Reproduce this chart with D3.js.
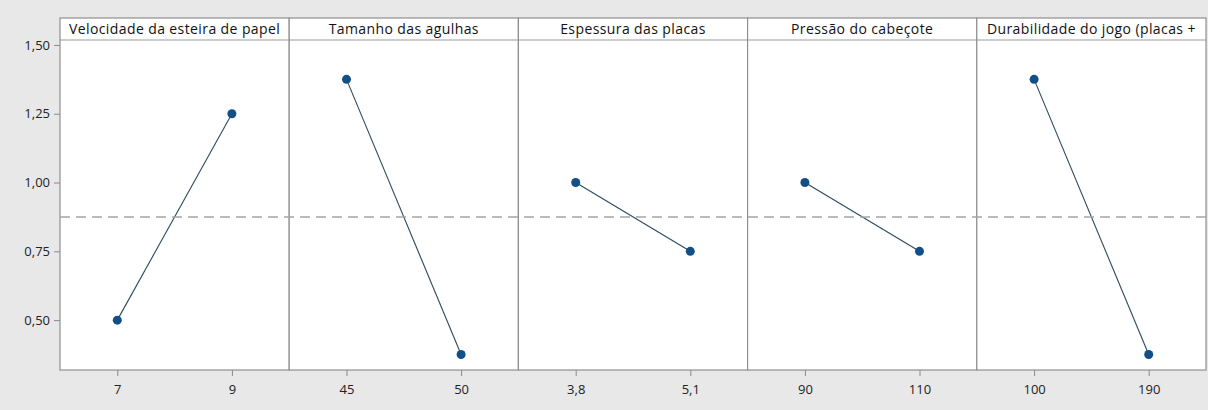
<!DOCTYPE html>
<html>
<head>
<meta charset="utf-8">
<script src="https://cdn.jsdelivr.net/npm/d3@7"></script>
<style>
body{margin:0;background:#e8e8e8;}
text{font-family:"Open Sans","DejaVu Sans",sans-serif;}
</style>
</head>
<body>
<script>
// fatores e níveis
var factors = ["Velocidade da esteira de papel", "Tamanho das agulhas", "Espessura das placas", "Pressão do cabeçote", "Durabilidade do jogo (placas +"];
var levels = [["7", "9"], ["45", "50"], ["3,8", "5,1"], ["90", "110"], ["100", "190"]];
var means = [[0.50, 1.25], [1.375, 0.375], [1.00, 0.75], [1.00, 0.75], [1.375, 0.375]];
var yTicks = [0.50, 0.75, 1.00, 1.25, 1.50];
var grandMean = 0.875;

var width = 1208, height = 410;
var left = 60, topY = 18, headH = 22, bottom = 370, panelW = 229.2;

var svg = d3.select("body").append("svg")
    .attr("width", width)
    .attr("height", height);

var y = d3.scaleLinear()
    .domain([0.3188, 1.518])
    .range([bottom, topY + headH]);

var fmt = function(d){ return d3.format(".2f")(d).replace(".", ","); };

// eixo y
var yAxis = svg.append("g")
    .attr("transform", "translate(" + left + ",0)")
    .call(d3.axisLeft(y).tickValues(yTicks).tickSize(6).tickPadding(4).tickFormat(fmt));
yAxis.select(".domain").remove();
yAxis.selectAll("line").attr("stroke", "#8a8a8a");
yAxis.selectAll("text").attr("font-size", 13).attr("fill", "#222");

var panel = svg.selectAll("g.panel")
    .data(factors)
    .enter().append("g")
    .attr("class", "panel")
    .attr("transform", function(d, i){ return "translate(" + (left + i * panelW) + ",0)"; });

panel.append("rect")
    .attr("x", 0).attr("y", topY)
    .attr("width", panelW).attr("height", bottom - topY)
    .attr("fill", "#fff");

var titles = panel.append("text")
    .attr("x", panelW / 2)
    .attr("y", topY + 16)
    .attr("text-anchor", "middle")
    .attr("font-size", 14)
    .attr("letter-spacing", 0.4)
    .attr("fill", "#111")
    .text(function(d){ return d; });

// título longo: encolhe para caber no painel
titles.each(function(){
    var w = this.getComputedTextLength();
    if (w > panelW - 6) {
        d3.select(this).attr("letter-spacing", 0).attr("font-size", 14 * (panelW - 6) / w);
    }
});

panel.append("line")
    .attr("x1", 0).attr("x2", panelW)
    .attr("y1", topY + headH).attr("y2", topY + headH)
    .attr("stroke", "#9a9a9a");

// linha da média geral
svg.append("line")
    .attr("x1", left).attr("x2", width)
    .attr("y1", y(grandMean)).attr("y2", y(grandMean))
    .attr("stroke", "#a5a5a5")
    .attr("stroke-width", 1.5)
    .attr("stroke-dasharray", "10,6");

panel.each(function(f, i){
    var g = d3.select(this);
    var x = d3.scalePoint().domain(levels[i]).range([0, panelW]).padding(0.5);
    var pts = levels[i].map(function(l, j){ return {lev: l, v: means[i][j]}; });

    var xAxis = g.append("g")
        .attr("transform", "translate(0," + bottom + ")")
        .call(d3.axisBottom(x).tickSize(6).tickPadding(9));
    xAxis.select(".domain").remove();
    xAxis.selectAll("line").attr("stroke", "#8a8a8a");
    xAxis.selectAll("text").attr("font-size", 13).attr("fill", "#222");

    g.append("path")
        .datum(pts)
        .attr("fill", "none")
        .attr("stroke", "#2b4a5a")
        .attr("stroke-width", 1.1)
        .attr("d", d3.line().x(function(d){ return x(d.lev); }).y(function(d){ return y(d.v); }));

    g.selectAll("circle")
        .data(pts)
        .enter().append("circle")
        .attr("cx", function(d){ return x(d.lev); })
        .attr("cy", function(d){ return y(d.v); })
        .attr("r", 4.5)
        .attr("fill", "#124f86");
});

// bordas dos painéis
panel.append("rect")
    .attr("x", 0).attr("y", topY)
    .attr("width", panelW).attr("height", bottom - topY)
    .attr("fill", "none")
    .attr("stroke", "#8f8f8f")
    .attr("stroke-width", 1.2);
</script>
</body>
</html>
